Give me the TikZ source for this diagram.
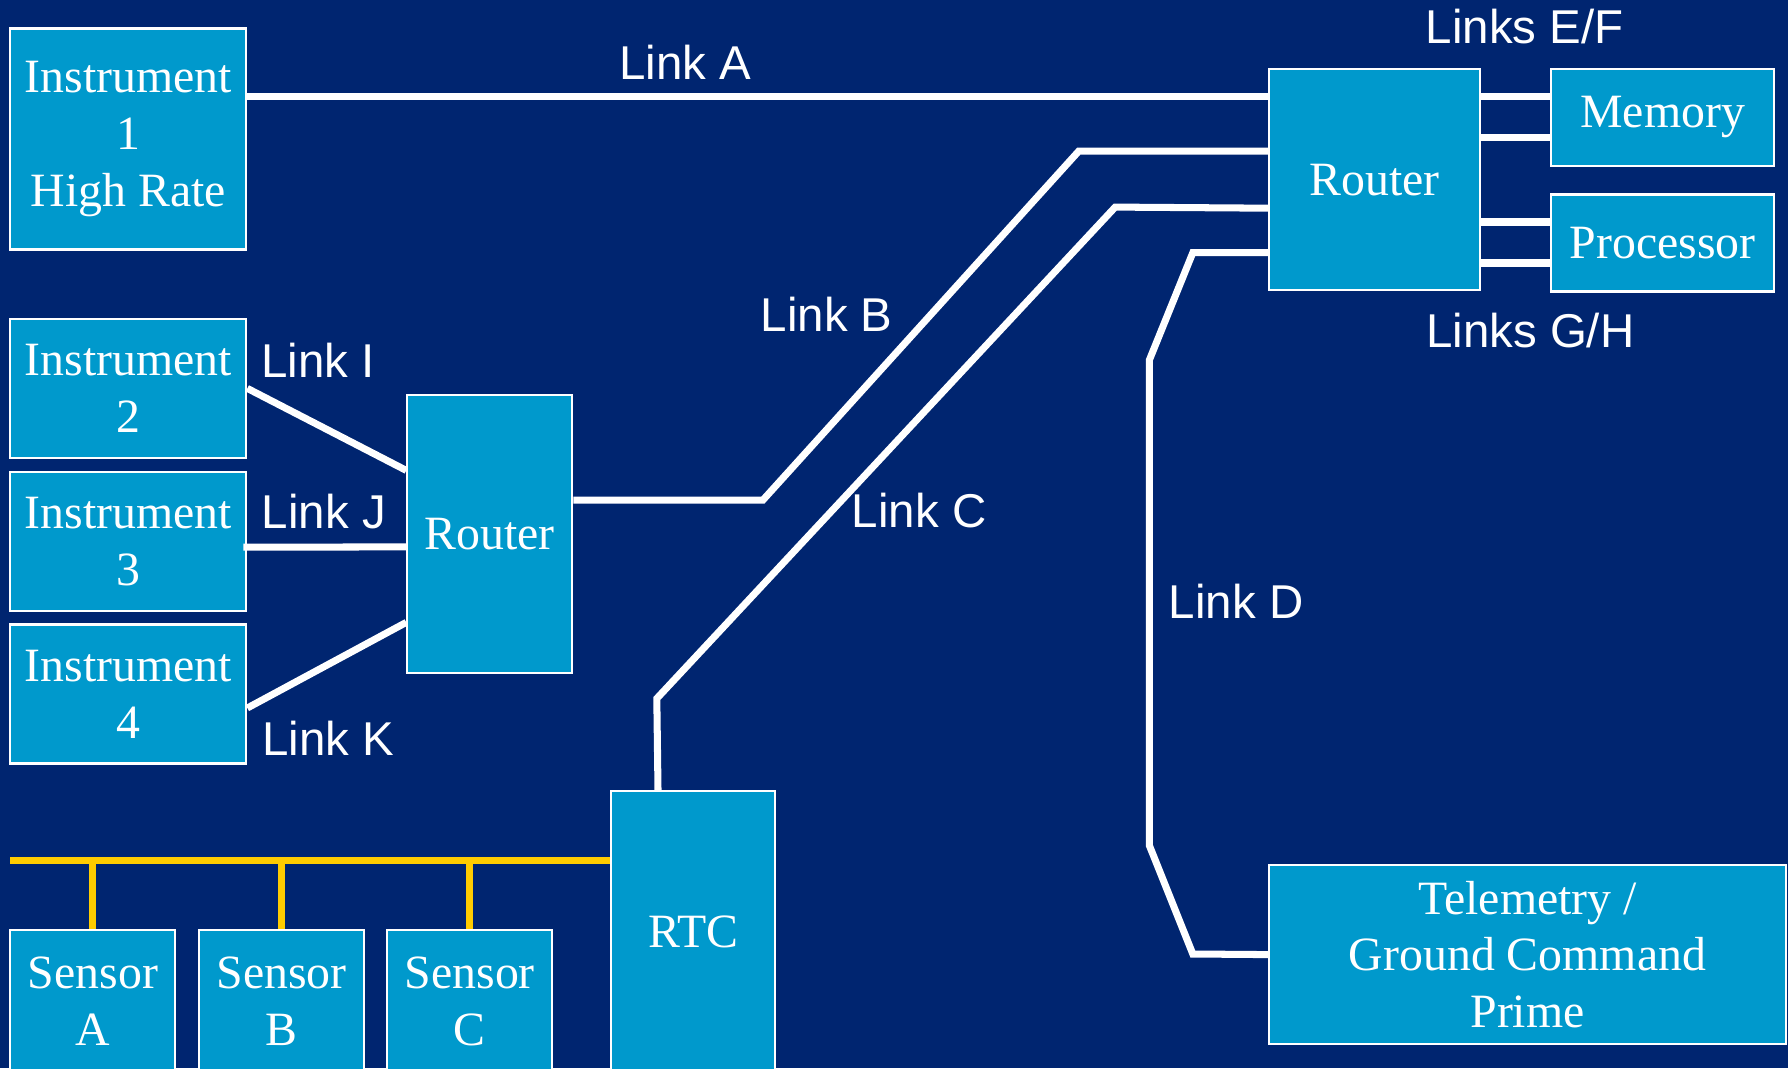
\documentclass[tikz,border=0pt]{standalone}
\usepackage{fontspec}
\setmainfont{Liberation Serif}
\newfontfamily\lblfont{Liberation Sans}
\usepackage{tikz}
\usetikzlibrary{positioning,calc}
\definecolor{navy}{RGB}{0,37,112}
\definecolor{boxblue}{RGB}{0,153,204}
\definecolor{busyellow}{RGB}{255,204,0}
\tikzset{
  unit/.style={draw=white,line width=0.6pt,fill=boxblue,text=white,
    align=center,inner sep=0pt,font=\fontsize{13.6}{16.2}\selectfont},
  lnk/.style={draw=white,line width=2pt},
  bus/.style={draw=busyellow,line width=2pt},
  lnklbl/.style={text=white,inner sep=1pt,font=\lblfont\fontsize{13.5}{16}\selectfont},
}
\begin{document}
\begin{tikzpicture}
  % background, same size as the page
  \fill[navy] (0,0) rectangle (17.88,10.68);
  \useasboundingbox (0,0) rectangle (17.88,10.68);
  % --- instruments on the left ---
  \node[unit,minimum width=2.36cm,minimum height=2.21cm] (i1) at (1.283,9.29) {Instrument\\1\\High Rate};
  \node[unit,minimum width=2.36cm,minimum height=1.39cm] (i2) at (1.283,6.796) {Instrument\\2};
  \node[unit,minimum width=2.36cm,minimum height=1.39cm] (i3) at (1.283,5.268) {Instrument\\3};
  \node[unit,minimum width=2.36cm,minimum height=1.39cm] (i4) at (1.283,3.740) {Instrument\\4};
  \node[unit,minimum width=1.65cm,minimum height=2.78cm] (r2) at (4.898,5.336) {Router};
  % --- main router with memory and processor ---
  \node[unit,minimum width=2.11cm,minimum height=2.21cm] (r1) at (13.747,8.883) {Router};
  \node[unit,minimum width=2.235cm,minimum height=0.97cm] (mem) at (16.626,9.505) {Memory};
  \node[unit,minimum width=2.235cm,minimum height=0.97cm] (proc) at (16.626,8.25) {Processor};
  \node[unit,minimum width=5.165cm,minimum height=1.79cm] (tm) at (15.275,1.134) {Telemetry /\\Ground Command\\Prime};
  % --- sensors and RTC (run off the bottom edge) ---
  \node[unit,minimum width=1.64cm,minimum height=2.82cm] (rtc) at (6.933,1.36) {RTC};
  \node[unit,minimum width=1.65cm,minimum height=1.43cm] (sa) at (0.929,0.665) {Sensor\\A};
  \node[unit,minimum width=1.65cm,minimum height=1.43cm] (sb) at (2.817,0.665) {Sensor\\B};
  \node[unit,minimum width=1.65cm,minimum height=1.43cm] (sc) at (4.698,0.665) {Sensor\\C};
  % links
  \draw[lnk] ([yshift=4.25mm]i1.east) -- ([yshift=4.25mm]i1.east -| r1.west);
  \draw[lnk] (i2.east) -- ([yshift=6.4mm]r2.west);
  \draw[lnk] ([xshift=-0.4mm,yshift=-0.6mm]i3.east) -- ([yshift=-1.25mm]r2.west);
  \draw[lnk] ([yshift=-1.4mm]i4.east) -- ([yshift=-8.8mm]r2.west);
  \draw[lnk] ([yshift=3.43mm]r2.east) -- (7.629,5.679) -- (10.787,9.168) -- ([yshift=2.85mm]r1.west);
  \draw[lnk] ([xshift=-3.53mm]rtc.north) -- (6.568,3.695) -- (11.152,8.609) -- ([yshift=-2.85mm]r1.west);
  \draw[lnk] ([yshift=-7.3mm]r1.west) -- (11.928,8.153) -- (11.494,7.081)
    -- (11.494,2.224) -- (11.928,1.140) -- (tm.west);
  \foreach \d in {2.1,-2} {
    \draw[lnk] ([yshift=\d mm]mem.west) -- ([yshift=\d mm]mem.west -| r1.east);
    \draw[lnk] ([yshift=\d mm]proc.west) -- ([yshift=\d mm]proc.west -| r1.east);
  }
  % sensor bus
  \coordinate (busl) at (0.103,2.075);
  \draw[bus] (busl) -- (busl -| rtc.west);
  \foreach \s in {sa,sb,sc}
    \draw[bus] (\s.north |- busl) -- (\s.north);
  % link labels
  \node[lnklbl] (la) at (6.853,10.057) {Link A};
  \node[lnklbl] (lb) at (8.267,7.537) {Link B};
  \node[lnklbl] (lc) at (9.191,5.576) {Link C};
  \node[lnklbl] (ld) at (12.361,4.664) {Link D};
  \node[lnklbl] (lef) at (15.246,10.411) {Links E/F};
  \node[lnklbl] (lgh) at (15.303,7.378) {Links G/H};
  \node[lnklbl] (li) at (3.181,7.081) {Link I};
  \node[lnklbl] (lj) at (3.239,5.565) {Link J};
  \node[lnklbl] (lk) at (3.284,3.295) {Link K};
\end{tikzpicture}
\end{document}
